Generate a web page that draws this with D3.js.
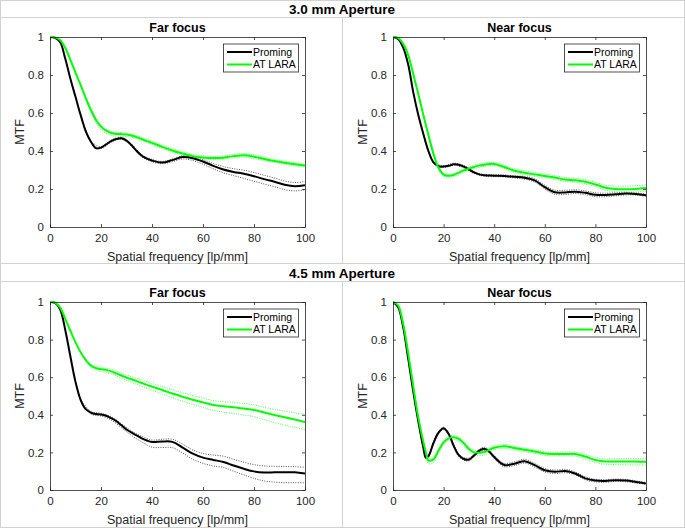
<!DOCTYPE html>
<html>
<head>
<meta charset="utf-8">
<script src="https://cdn.jsdelivr.net/npm/d3@7"></script>
<style>
  body { margin: 0; background: #fff; }
  svg text { font-family: "Liberation Sans", Arial, sans-serif; fill: #262626; }
</style>
</head>
<body>
<svg id="chart" width="685" height="528"></svg>
<script>
'use strict';

// spatial frequency grids [lp/mm]
const freq = [0,2,4,6,8,10,12,14,16,18,20,22,24,26,28,30,32,34,36,38,40,44,48,52,56,60,64,68,72,76,80,84,88,92,96,100];
const freqBand = [12,16,20,24,28,32,36,40,44,48,52,56,60,64,68,72,76,80,84,88,92,96,100];
const freqD = [0,2,4,6,8,10,12,13,14,16,18,20,22,24,26,28,30,32,34,36,38,40,44,48,52,56,60,64,68,72,76,80,84,88,92,96,100];

const seriesNames = ['Proming', 'AT LARA'];
const xTicks = [0, 20, 40, 60, 80, 100];
const yTicks = [0, 0.2, 0.4, 0.6, 0.8, 1];

// 3.0 mm, far focus
const far30Proming = [1,0.995,0.972,0.885,0.78,0.685,0.59,0.505,0.45,0.415,0.418,0.435,0.452,0.463,0.467,0.455,0.43,0.40,0.375,0.36,0.35,0.339,0.352,0.368,0.362,0.345,0.322,0.303,0.29,0.28,0.267,0.252,0.238,0.222,0.214,0.22];
const far30PromingHi = [0.595,0.455,0.423,0.457,0.472,0.436,0.381,0.356,0.345,0.358,0.375,0.37,0.355,0.334,0.318,0.307,0.299,0.287,0.272,0.258,0.242,0.234,0.239];
const far30PromingLo = [0.585,0.445,0.413,0.447,0.462,0.424,0.369,0.343,0.333,0.344,0.358,0.35,0.331,0.306,0.285,0.27,0.256,0.241,0.226,0.212,0.197,0.19,0.196];
const far30Lara = [1,0.998,0.984,0.942,0.88,0.812,0.748,0.68,0.617,0.565,0.528,0.507,0.495,0.49,0.489,0.487,0.482,0.473,0.463,0.452,0.443,0.422,0.403,0.387,0.373,0.366,0.363,0.365,0.373,0.377,0.37,0.358,0.347,0.338,0.33,0.323];
const far30LaraHi = [0.752,0.622,0.535,0.503,0.497,0.49,0.472,0.452,0.431,0.412,0.396,0.382,0.375,0.372,0.374,0.383,0.387,0.38,0.367,0.356,0.347,0.338,0.33];
const far30LaraLo = [0.744,0.605,0.512,0.482,0.478,0.473,0.455,0.435,0.414,0.395,0.379,0.366,0.359,0.356,0.358,0.365,0.368,0.361,0.35,0.34,0.331,0.323,0.316];

// 3.0 mm, near focus
const near30Proming = [1,0.99,0.945,0.855,0.71,0.59,0.49,0.4,0.34,0.32,0.318,0.322,0.33,0.328,0.318,0.303,0.287,0.277,0.272,0.271,0.27,0.269,0.264,0.259,0.245,0.21,0.183,0.182,0.186,0.18,0.17,0.169,0.172,0.176,0.174,0.167];
const near30PromingHi = [0.493,0.344,0.323,0.336,0.324,0.292,0.277,0.275,0.274,0.27,0.266,0.254,0.22,0.194,0.193,0.196,0.19,0.18,0.178,0.18,0.183,0.18,0.173];
const near30PromingLo = [0.487,0.336,0.313,0.324,0.312,0.282,0.267,0.265,0.264,0.258,0.252,0.236,0.2,0.172,0.171,0.176,0.17,0.16,0.16,0.164,0.169,0.168,0.161];
const near30Lara = [1,0.995,0.965,0.905,0.805,0.70,0.59,0.485,0.385,0.31,0.276,0.27,0.274,0.286,0.298,0.307,0.316,0.323,0.328,0.332,0.332,0.316,0.296,0.285,0.277,0.269,0.26,0.25,0.246,0.238,0.224,0.207,0.2,0.199,0.2,0.205];
const near30LaraHi = [0.594,0.39,0.282,0.281,0.306,0.324,0.336,0.34,0.325,0.306,0.295,0.287,0.279,0.27,0.26,0.256,0.249,0.236,0.22,0.215,0.215,0.217,0.222];
const near30LaraLo = [0.586,0.38,0.268,0.265,0.288,0.307,0.319,0.324,0.308,0.287,0.276,0.268,0.26,0.25,0.24,0.236,0.227,0.212,0.194,0.186,0.184,0.184,0.19];

// 4.5 mm, far focus
const far45Proming = [1,0.995,0.96,0.85,0.71,0.575,0.48,0.43,0.412,0.404,0.402,0.395,0.382,0.366,0.344,0.322,0.305,0.29,0.275,0.263,0.255,0.258,0.256,0.226,0.193,0.172,0.16,0.149,0.13,0.113,0.099,0.093,0.094,0.095,0.094,0.088];
const far45PromingHi = [0.484,0.418,0.408,0.39,0.352,0.314,0.285,0.266,0.27,0.27,0.244,0.213,0.194,0.186,0.18,0.163,0.148,0.135,0.128,0.126,0.125,0.124,0.121];
const far45PromingLo = [0.476,0.405,0.394,0.372,0.332,0.29,0.256,0.228,0.226,0.225,0.197,0.163,0.142,0.128,0.12,0.1,0.08,0.062,0.048,0.042,0.039,0.039,0.038];
const far45Lara = [1,0.997,0.97,0.91,0.847,0.785,0.733,0.692,0.662,0.648,0.643,0.639,0.631,0.62,0.609,0.598,0.589,0.579,0.569,0.559,0.55,0.532,0.513,0.496,0.48,0.466,0.452,0.445,0.44,0.433,0.426,0.412,0.399,0.387,0.375,0.362];
const far45LaraHi = [0.736,0.668,0.652,0.642,0.622,0.603,0.585,0.567,0.551,0.533,0.517,0.502,0.489,0.476,0.47,0.466,0.46,0.453,0.44,0.429,0.419,0.41,0.402];
const far45LaraLo = [0.73,0.655,0.632,0.618,0.594,0.573,0.551,0.531,0.511,0.49,0.472,0.455,0.439,0.424,0.414,0.407,0.399,0.39,0.374,0.359,0.345,0.333,0.322];

// 4.5 mm, near focus (finer grid, bounds on the same grid)
const near45Proming = [1,0.974,0.868,0.70,0.525,0.365,0.225,0.172,0.18,0.25,0.305,0.328,0.298,0.235,0.185,0.165,0.162,0.183,0.208,0.22,0.205,0.175,0.133,0.14,0.153,0.132,0.105,0.097,0.101,0.088,0.062,0.05,0.048,0.052,0.05,0.043,0.035];
const near45PromingHi = [1,0.975,0.87,0.703,0.528,0.368,0.23,0.178,0.186,0.256,0.312,0.334,0.305,0.242,0.192,0.172,0.17,0.19,0.215,0.228,0.213,0.184,0.142,0.15,0.163,0.142,0.114,0.106,0.11,0.096,0.07,0.057,0.055,0.058,0.056,0.049,0.04];
const near45PromingLo = [1,0.973,0.866,0.697,0.522,0.362,0.22,0.166,0.174,0.244,0.298,0.322,0.291,0.228,0.178,0.158,0.154,0.176,0.201,0.212,0.197,0.166,0.124,0.13,0.143,0.122,0.096,0.088,0.092,0.08,0.054,0.043,0.041,0.046,0.044,0.037,0.03];
const near45Lara = [1,0.982,0.885,0.728,0.552,0.385,0.255,0.2,0.157,0.163,0.21,0.253,0.275,0.28,0.272,0.248,0.218,0.2,0.198,0.202,0.213,0.225,0.233,0.223,0.214,0.205,0.194,0.192,0.192,0.191,0.178,0.16,0.152,0.152,0.152,0.151,0.15];
const near45LaraHi = [1,0.983,0.887,0.732,0.558,0.392,0.262,0.208,0.168,0.172,0.218,0.262,0.284,0.289,0.281,0.258,0.228,0.212,0.21,0.213,0.222,0.234,0.242,0.232,0.223,0.214,0.203,0.201,0.202,0.202,0.19,0.172,0.165,0.166,0.167,0.167,0.166];
const near45LaraLo = [1,0.981,0.883,0.724,0.546,0.378,0.245,0.185,0.14,0.145,0.198,0.243,0.265,0.27,0.262,0.236,0.205,0.186,0.182,0.186,0.2,0.214,0.222,0.213,0.204,0.195,0.184,0.182,0.182,0.18,0.165,0.146,0.137,0.135,0.134,0.133,0.132];

const colors = ['#000000', '#00ff00'];
const borderColor = '#d2d2d2';

// panel layout
const panels = [
    { title: 'Far focus', left: 50, right: 305, top: 37, bottom: 227,
      x: freq, xb: freqBand,
      mean: [far30Proming, far30Lara], hi: [far30PromingHi, far30LaraHi], lo: [far30PromingLo, far30LaraLo] },
    { title: 'Near focus', left: 393, right: 646, top: 37, bottom: 227,
      x: freq, xb: freqBand,
      mean: [near30Proming, near30Lara], hi: [near30PromingHi, near30LaraHi], lo: [near30PromingLo, near30LaraLo] },
    { title: 'Far focus', left: 50, right: 305, top: 302, bottom: 490,
      x: freq, xb: freqBand,
      mean: [far45Proming, far45Lara], hi: [far45PromingHi, far45LaraHi], lo: [far45PromingLo, far45LaraLo] },
    { title: 'Near focus', left: 393, right: 646, top: 302, bottom: 490,
      x: freqD, xb: freqD,
      mean: [near45Proming, near45Lara], hi: [near45PromingHi, near45LaraHi], lo: [near45PromingLo, near45LaraLo] }
];

const svg = d3.select('#chart');
svg.append('rect').attr('width', 685).attr('height', 528).attr('fill', '#fff');

// frame lines of the figure
const frame = svg.append('g').attr('stroke', borderColor).attr('stroke-width', 1).attr('fill', 'none');
frame.append('rect').attr('x', 0.5).attr('y', 0.5).attr('width', 684).attr('height', 527);
[17.5, 263.5, 281.5].forEach(yy => {
    frame.append('line').attr('x1', 0).attr('x2', 685).attr('y1', yy).attr('y2', yy);
});
frame.append('line').attr('x1', 342.5).attr('x2', 342.5).attr('y1', 17.5).attr('y2', 263.5);
frame.append('line').attr('x1', 342.5).attr('x2', 342.5).attr('y1', 281.5).attr('y2', 528);

// row headers
svg.append('text').attr('x', 342).attr('y', 14).attr('text-anchor', 'middle')
    .attr('font-size', 13.5).attr('font-weight', 'bold').style('fill', '#000').text('3.0 mm Aperture');
svg.append('text').attr('x', 342).attr('y', 277.5).attr('text-anchor', 'middle')
    .attr('font-size', 13.5).attr('font-weight', 'bold').style('fill', '#000').text('4.5 mm Aperture');

function drawPanel(p, idx){
    const x = d3.scaleLinear().domain([0, 100]).range([p.left, p.right]);
    const y = d3.scaleLinear().domain([0, 1]).range([p.bottom, p.top]);
    const g = svg.append('g');

    // clip curves to the axes box
    const clipId = 'clip' + idx;
    g.append('clipPath').attr('id', clipId)
        .append('rect')
        .attr('x', p.left).attr('y', p.top - 1)
        .attr('width', p.right - p.left).attr('height', p.bottom - p.top + 1);

    const curves = g.append('g').attr('clip-path', `url(#${clipId})`);
    const lineFor = xs => d3.line()
        .x((d, i) => x(xs[i]))
        .y(d => y(d))
        .curve(d3.curveCatmullRom.alpha(0.5));

    // dotted +/- bounds
    [0, 1].forEach(s => {
        [p.hi[s], p.lo[s]].forEach(arr => {
            curves.append('path')
                .attr('d', lineFor(p.xb)(arr))
                .attr('fill', 'none')
                .attr('stroke', colors[s])
                .attr('stroke-opacity', s === 0 ? 0.75 : 0.8)
                .attr('stroke-width', 0.9)
                .attr('stroke-dasharray', '1,1.4');
        });
    });

    // mean curves
    [0, 1].forEach(s => {
        curves.append('path')
            .attr('d', lineFor(p.x)(p.mean[s]))
            .attr('fill', 'none')
            .attr('stroke', colors[s])
            .attr('stroke-width', 2);
    });

    // axes, ticks pointing inwards like matlab
    const styleAxis = sel => {
        sel.select('.domain').remove();
        sel.selectAll('line').attr('stroke', '#262626').attr('stroke-width', 0.8);
        sel.selectAll('text').attr('font-size', 11.5).attr('font-family', null).style('fill', '#262626');
    };
    g.append('g').attr('transform', `translate(0,${p.bottom})`)
        .call(d3.axisBottom(x).tickValues(xTicks).tickSize(-3).tickPadding(7))
        .call(styleAxis);
    g.append('g').attr('transform', `translate(0,${p.top})`)
        .call(d3.axisTop(x).tickValues(xTicks).tickSize(-3).tickFormat(''))
        .call(styleAxis);
    g.append('g').attr('transform', `translate(${p.left},0)`)
        .call(d3.axisLeft(y).tickValues(yTicks).tickSize(-3).tickPadding(6).tickFormat(d => String(d)))
        .call(styleAxis);
    g.append('g').attr('transform', `translate(${p.right},0)`)
        .call(d3.axisRight(y).tickValues(yTicks).tickSize(-3).tickFormat(''))
        .call(styleAxis);

    g.append('rect')
        .attr('x', p.left + 0.5).attr('y', p.top + 0.5)
        .attr('width', p.right - p.left).attr('height', p.bottom - p.top)
        .attr('fill', 'none').attr('stroke', '#262626').attr('stroke-width', 0.8);

    // title and labels
    g.append('text')
        .attr('x', (p.left + p.right) / 2).attr('y', p.top - 5.5)
        .attr('text-anchor', 'middle').attr('font-size', 12.5).attr('font-weight', 'bold')
        .style('fill', '#000').text(p.title);
    g.append('text')
        .attr('x', (p.left + p.right) / 2).attr('y', p.bottom + 33.5)
        .attr('text-anchor', 'middle').attr('font-size', 12.5)
        .text('Spatial frequency [lp/mm]');
    g.append('text')
        .attr('transform', `translate(${p.left - 26},${(p.top + p.bottom) / 2}) rotate(-90)`)
        .attr('text-anchor', 'middle').attr('font-size', 12.5)
        .text('MTF');

    // legend
    const lw = 75, lh = 28;
    const lx = p.right - 7 - lw, ly = p.top + 6.5;
    const leg = g.append('g').attr('transform', `translate(${lx},${ly})`);
    leg.append('rect').attr('x', 0.5).attr('y', 0.5).attr('width', lw).attr('height', lh)
        .attr('fill', '#fff').attr('stroke', '#262626').attr('stroke-width', 0.8);
    seriesNames.forEach((name, i) => {
        const yy = 8.5 + i * 12.5;
        leg.append('line').attr('x1', 4).attr('x2', 29).attr('y1', yy).attr('y2', yy)
            .attr('stroke', colors[i]).attr('stroke-width', 2);
        leg.append('text').attr('x', 30).attr('y', yy + 3.8)
            .attr('font-size', 10.5).style('fill', '#000').text(name);
    });
}

panels.forEach(drawPanel);
</script>
</body>
</html>
